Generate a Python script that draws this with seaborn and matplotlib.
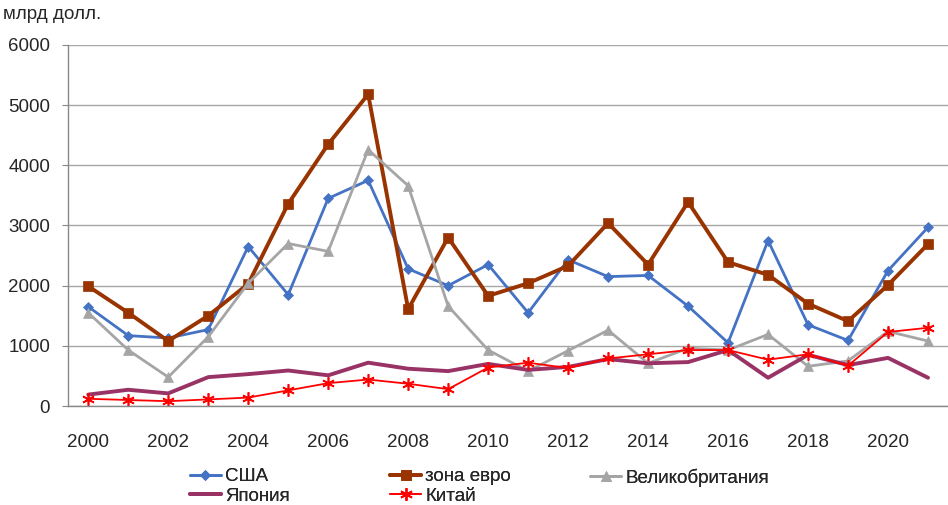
"""Capital flows by region, 2000-2021 (line chart)."""

import matplotlib
matplotlib.use("Agg")
import matplotlib.pyplot as plt
import pandas as pd
import seaborn as sns

years = list(range(2000, 2022))
usa = [1650, 1170, 1130, 1270, 2650, 1850, 3450, 3750, 2280, 2000, 2350,
       1550, 2430, 2150, 2170, 1660, 1050, 2750, 1350, 1090, 2250, 2970]
euro = [1990, 1550, 1080, 1500, 2030, 3360, 4350, 5180, 1610, 2800, 1830,
        2040, 2330, 3040, 2350, 3390, 2390, 2180, 1700, 1410, 2010, 2690]
uk = [1550, 930, 480, 1150, 2040, 2700, 2570, 4260, 3660, 1660, 930,
      580, 920, 1260, 710, 960, 930, 1190, 660, 750, 1240, 1080]
japan = [190, 270, 210, 480, 530, 590, 510, 720, 620, 580, 700,
         600, 650, 780, 710, 730, 930, 470, 850, 680, 800, 470]
china = [120, 100, 80, 110, 140, 260, 380, 440, 370, 280, 640,
         720, 630, 790, 860, 930, 930, 770, 860, 670, 1230, 1300]

series = {
    "США": usa,
    "зона евро": euro,
    "Великобритания": uk,
    "Япония": japan,
    "Китай": china,
}
styles = {
    "США": dict(color="#4472C4", lw=2.0, marker="D", ms=5.5),
    "зона евро": dict(color="#993300", lw=2.8, marker="s", ms=7.5),
    "Великобритания": dict(color="#A5A5A5", lw=2.0, marker="^", ms=7),
    "Япония": dict(color="#993366", lw=2.8, marker=None, ms=0),
    "Китай": dict(color="#FF0000", lw=1.3, marker=(6, 2, 0), ms=9),
}

sns.set_style("white")
plt.rcParams["font.family"] = ["Liberation Sans", "DejaVu Sans"]
FS = 13.5

fig = plt.figure(figsize=(9.48, 5.05), dpi=100)
ax = fig.add_axes([0.072, 0.196, 0.928, 0.715])

df = pd.DataFrame({"year": years, **series})
handles = {}
for name, st in styles.items():
    sns.lineplot(data=df, x="year", y=name, ax=ax, color=st["color"], linewidth=st["lw"],
                 marker=st["marker"], markersize=st["ms"], markeredgecolor=st["color"],
                 markeredgewidth=1.2 if name == "Китай" else 0.5)
    handles[name] = ax.lines[-1]

ax.set_xlim(1999.5, 2021.5)
ax.set_ylim(0, 6000)
ax.set_yticks(range(0, 6001, 1000))
ax.set_xticks(range(2000, 2021, 2))
ax.set_xticks([y - 0.5 for y in years] + [2021.5], minor=True)
ax.tick_params(axis="x", which="major", length=0, labelsize=FS, pad=20)
ax.tick_params(axis="x", which="minor", length=5, color="#888888", width=1)
ax.tick_params(axis="y", length=4, color="#888888", labelsize=FS, pad=9, left=True)
ax.set_xlabel("")
ax.set_ylabel("")
ax.grid(axis="y", color="#A6A6A6", lw=1)
ax.set_axisbelow(True)
for side in ["top", "right"]:
    ax.spines[side].set_visible(False)
for side in ["left", "bottom"]:
    ax.spines[side].set_color("#888888")
    ax.spines[side].set_linewidth(1)

fig.text(0.003, 0.988, "млрд долл.", fontsize=FS, va="top", ha="left")

# one legend per column, as in the original layout
columns = [["США", "Япония"], ["зона евро", "Китай"], ["Великобритания"]]
col_x = [0.196, 0.407, 0.618]
for names, x in zip(columns, col_x):
    leg = fig.legend([handles[n] for n in names], names, loc="upper left",
                     bbox_to_anchor=(x, 0.080),
                     frameon=False, fontsize=FS, handlelength=1.7, handletextpad=0.2,
                     labelspacing=0.12, borderpad=0.2, borderaxespad=0)
    fig.add_artist(leg)

fig.savefig("out.png", dpi=100)
